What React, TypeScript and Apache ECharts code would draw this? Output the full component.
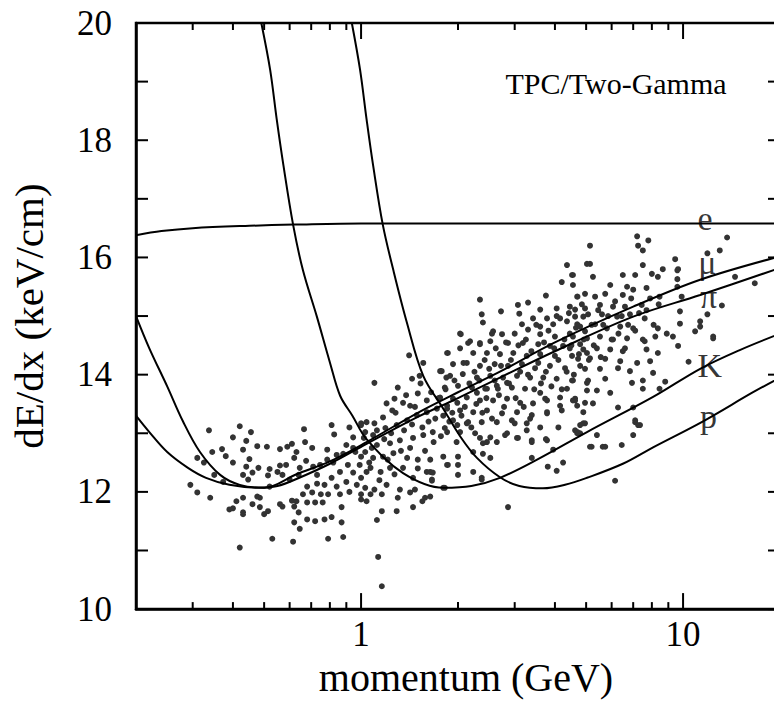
import React, { useEffect, useRef } from "react";
import * as echarts from "echarts";

// ---- axis ranges, ticks ----
const X_MIN = 0.2;
const X_MAX = 20;
const Y_MIN = 10;
const Y_MAX = 20;
const Y_LABEL_STEP = 2;
const xMajorTicks = [1, 10];
const xMinorTicks = [0.3, 0.4, 0.5, 0.6, 0.7, 0.8, 0.9, 2, 3, 4, 5, 6, 7, 8, 9];
const yTickValues = [10, 11, 12, 13, 14, 15, 16, 17, 18, 19, 20];

// ---- curves (momentum GeV, dE/dx keV/cm) ----
const curveE = [[0.2, 16.38], [0.24, 16.45], [0.3, 16.5], [0.45, 16.54], [0.62, 16.56], [1.0, 16.58], [3.0, 16.58], [20, 16.58]];
const curveMu = [[0.2, 15.0], [0.22, 14.45], [0.25, 13.8], [0.28, 13.2], [0.316, 12.68], [0.365, 12.29], [0.42, 12.12], [0.5, 12.07], [0.63, 12.3], [0.8, 12.52], [1.04, 12.85], [1.5, 13.35], [2.0, 13.7], [2.7, 14.05], [4.0, 14.55], [7.0, 15.16], [11.3, 15.62], [20, 16.02]];
const curvePi = [[0.2, 13.3], [0.22, 13.02], [0.25, 12.68], [0.29, 12.41], [0.33, 12.24], [0.39, 12.12], [0.48, 12.07], [0.55, 12.1], [0.63, 12.22], [0.8, 12.48], [1.04, 12.82], [1.5, 13.28], [2.0, 13.6], [2.7, 13.95], [4.0, 14.4], [7.0, 14.99], [11.3, 15.36], [20, 15.82]];
const curveK = [[0.49, 20.0], [0.522, 19.2], [0.547, 18.36], [0.574, 17.57], [0.615, 16.56], [0.66, 15.78], [0.729, 14.99], [0.801, 14.2], [0.861, 13.64], [0.94, 13.3], [1.04, 12.9], [1.35, 12.32], [1.8, 12.07], [2.2, 12.1], [2.7, 12.24], [3.52, 12.55], [5.03, 13.02], [8.07, 13.62], [11.3, 14.1], [15, 14.42], [20, 14.7]];
const curveP = [[0.936, 20.0], [0.993, 19.2], [1.04, 18.36], [1.09, 17.57], [1.168, 16.56], [1.26, 15.78], [1.386, 14.9], [1.56, 13.98], [1.8, 13.42], [2.03, 12.95], [2.29, 12.58], [2.7, 12.25], [3.1, 12.1], [3.67, 12.06], [4.3, 12.12], [5.03, 12.24], [6.5, 12.48], [8.07, 12.76], [11.5, 13.2], [16.5, 13.7], [20, 13.95]];

// ---- measured tracks ----
const ptsLow = [[0.337, 13.05], [0.42, 13.12], [0.455, 13.02], [0.4, 12.93], [0.44, 12.87], [0.345, 12.68], [0.37, 12.73], [0.43, 12.72], [0.476, 12.78], [0.51, 12.77], [0.31, 12.58], [0.325, 12.5], [0.4, 12.5], [0.45, 12.56], [0.44, 12.43], [0.43, 12.29], [0.46, 12.33], [0.446, 12.21], [0.514, 12.28], [0.56, 12.73], [0.59, 12.77], [0.61, 12.82], [0.665, 13.07], [0.67, 12.85], [0.63, 12.68], [0.62, 12.58], [0.675, 12.53], [0.56, 12.45], [0.585, 12.46], [0.55, 12.34], [0.57, 12.29], [0.52, 12.09], [0.6, 12.21], [0.645, 12.41], [0.64, 12.29], [0.68, 12.09], [0.66, 11.96], [0.61, 11.85], [0.63, 11.84], [0.57, 11.75], [0.56, 11.79], [0.62, 11.75], [0.68, 11.82], [0.64, 11.65], [0.68, 11.53], [0.62, 11.48], [0.645, 11.37], [0.41, 11.84], [0.39, 11.7], [0.43, 11.65], [0.46, 11.79], [0.485, 11.9], [0.485, 11.74], [0.514, 11.67], [0.5, 11.62], [0.43, 11.9], [0.476, 11.92], [0.34, 11.9], [0.31, 11.99], [0.295, 12.12], [0.53, 11.2], [0.615, 11.15], [0.42, 11.05], [0.373, 12.17], [0.35, 12.29], [0.52, 12.39], [0.48, 12.41], [0.38, 12.61], [0.4, 11.72], [0.43, 11.62]];
const ptsMidLeft = [[0.705, 12.75], [0.705, 11.99], [0.73, 12.29], [0.785, 12.72], [0.81, 13.14], [0.825, 12.98], [0.84, 12.63], [0.785, 12.55], [0.82, 12.5], [0.92, 13.1], [0.945, 12.93], [0.9, 12.8], [0.88, 12.65], [0.96, 12.68], [0.99, 12.46], [0.91, 12.46], [0.86, 12.34], [0.945, 12.33], [1.0, 12.24], [0.81, 12.24], [0.77, 12.12], [0.73, 12.14], [0.84, 12.09], [0.92, 12.0], [1.0, 11.96], [0.75, 11.96], [0.79, 11.96], [0.86, 11.96], [0.72, 11.82], [0.76, 11.82], [0.87, 11.74], [0.72, 11.5], [0.77, 11.53], [0.81, 11.57], [0.87, 11.48], [0.79, 11.2], [0.88, 11.23], [0.746, 12.46], [0.71, 12.43], [1.0, 13.17], [1.03, 13.02], [0.945, 12.75], [1.0, 12.6], [0.97, 12.12], [0.9, 12.17], [1.04, 12.34], [1.04, 11.84]];
const ptsCoreA = [[2.03, 14.7], [2.18, 14.57], [2.34, 14.52], [2.55, 14.7], [1.86, 14.37], [2.03, 14.45], [1.41, 14.33], [1.56, 14.2], [1.78, 14.06], [1.44, 13.93], [1.52, 13.98], [1.84, 13.95], [1.1, 13.86], [1.3, 13.78], [1.5, 13.68], [1.27, 13.59], [1.2, 13.51], [1.35, 13.52], [1.42, 13.47], [1.6, 13.56], [1.25, 13.39], [1.17, 13.27], [1.1, 13.17], [1.04, 13.19], [1.0, 13.14], [1.02, 12.92], [1.09, 12.97], [1.19, 13.09], [1.29, 13.14], [1.39, 13.22], [1.49, 13.31], [1.6, 13.36], [1.72, 13.42], [1.85, 13.47], [1.99, 13.52], [2.13, 13.61], [2.29, 13.69], [2.46, 13.76], [2.64, 13.81], [2.84, 13.86], [1.12, 12.8], [1.23, 12.83], [1.32, 12.88], [1.45, 12.92], [1.56, 12.97], [1.67, 13.02], [1.82, 13.09], [1.99, 13.14], [2.13, 13.17], [1.03, 12.68], [1.09, 12.58], [1.17, 12.6], [1.26, 12.66], [1.39, 12.58], [1.5, 12.55], [1.64, 12.55], [1.8, 12.6], [1.86, 12.46], [2.0, 12.6], [2.23, 12.68], [2.39, 12.83], [2.64, 12.85], [2.52, 12.58], [2.84, 13.0], [2.0, 12.29], [2.23, 12.34], [2.37, 12.21], [1.07, 12.41], [1.15, 12.34], [1.23, 12.41], [1.35, 12.41], [1.45, 12.24], [1.64, 12.34], [1.66, 12.21], [1.03, 12.07], [1.1, 12.04], [1.2, 12.12], [1.32, 12.04], [1.42, 11.99], [1.47, 12.04], [1.07, 11.96], [1.16, 11.96], [1.3, 11.9], [1.55, 11.84], [1.64, 11.92], [1.0, 11.87], [1.16, 11.67], [1.29, 11.67], [1.45, 11.74], [1.12, 11.52], [1.82, 12.07], [2.86, 11.74], [1.13, 10.89], [1.16, 10.39]];
const ptsCoreB = [[4.36, 15.87], [5.03, 15.89], [4.52, 15.7], [4.2, 15.58], [4.55, 15.53], [3.75, 15.35], [4.7, 15.33], [4.96, 15.38], [3.3, 15.23], [3.07, 15.19], [3.6, 15.11], [4.05, 15.13], [4.62, 15.11], [2.72, 15.08], [2.37, 15.03], [3.1, 15.04], [3.42, 14.96], [3.78, 14.96], [4.15, 14.96], [4.9, 14.99], [2.39, 14.89], [3.16, 14.86], [3.6, 14.82], [3.95, 14.86], [4.36, 14.91], [4.69, 14.86], [2.57, 14.74], [2.74, 14.69], [3.0, 14.7], [3.3, 14.77], [3.6, 14.69], [4.0, 14.65], [4.45, 14.7], [4.96, 14.74], [2.04, 14.69], [2.15, 14.54], [2.34, 14.54], [2.52, 14.57], [2.86, 14.54], [3.18, 14.54], [3.55, 14.52], [3.86, 14.49], [4.24, 14.49], [4.79, 14.52], [1.85, 14.37], [2.03, 14.45], [2.23, 14.37], [2.46, 14.37], [2.7, 14.35], [2.97, 14.37], [3.27, 14.32], [3.6, 14.35], [4.0, 14.32], [4.52, 14.32], [5.03, 14.37], [1.93, 14.18], [2.13, 14.2], [2.34, 14.15], [2.6, 14.18], [2.86, 14.15], [3.16, 14.18], [3.47, 14.11], [3.86, 14.15], [4.3, 14.11], [4.79, 14.15], [1.76, 14.06], [1.89, 13.98], [2.07, 14.01], [2.29, 13.95], [2.52, 13.98], [2.76, 13.95], [3.05, 13.98], [3.35, 13.95], [3.68, 13.95], [4.05, 13.93], [4.55, 13.9], [5.03, 13.86], [1.82, 13.78], [2.0, 13.81], [2.21, 13.78], [2.43, 13.76], [2.66, 13.76], [2.94, 13.78], [3.23, 13.76], [3.6, 13.69], [4.36, 13.76], [4.62, 13.56], [4.96, 13.52], [1.76, 13.61], [1.93, 13.59], [2.13, 13.61], [2.34, 13.56], [2.57, 13.56], [2.84, 13.59], [3.12, 13.52], [3.42, 13.51], [3.78, 13.56], [4.15, 13.61], [1.85, 13.42], [2.03, 13.39], [2.23, 13.36], [2.46, 13.39], [2.74, 13.34], [3.05, 13.36], [3.39, 13.31], [3.78, 13.34], [4.2, 13.39], [4.69, 13.47], [1.93, 13.22], [2.15, 13.19], [2.37, 13.19], [2.64, 13.19], [2.94, 13.22], [3.27, 13.17], [3.6, 13.1], [4.1, 13.1], [1.85, 13.02], [2.03, 13.02], [2.26, 13.0], [2.52, 12.93], [2.8, 12.97], [3.07, 12.92], [3.39, 12.88], [3.78, 12.88], [4.7, 13.02], [2.34, 15.28]];
const ptsCoreFill = [[1.06, 12.5], [1.08, 12.75], [1.12, 13.05], [1.14, 12.2], [1.18, 12.9], [1.21, 12.55], [1.24, 13.0], [1.27, 12.3], [1.28, 13.35], [1.33, 12.7], [1.36, 13.05], [1.38, 13.65], [1.42, 12.75], [1.44, 13.15], [1.47, 13.45], [1.5, 12.4], [1.53, 13.85], [1.55, 13.1], [1.58, 12.7], [1.62, 13.2], [1.65, 13.7], [1.68, 12.85], [1.7, 13.25], [1.74, 13.6], [1.77, 12.95], [1.8, 13.3], [1.83, 13.75], [1.88, 13.2], [1.92, 13.35], [1.95, 13.9], [1.98, 12.85], [2.05, 13.3], [2.08, 14.2], [2.1, 13.45], [2.17, 13.85], [2.2, 13.1], [2.25, 14.05], [2.28, 13.5], [2.33, 13.9], [2.38, 13.35], [2.42, 14.25], [2.45, 13.6], [2.5, 14.1], [2.55, 13.25], [2.6, 13.9], [2.62, 14.45], [2.68, 13.65], [2.72, 14.15], [2.78, 13.45], [2.82, 14.55], [2.88, 13.85], [2.92, 14.25], [3.02, 13.6], [3.08, 14.5], [3.12, 14.05], [3.2, 13.45], [3.25, 14.6], [3.3, 14.0], [3.38, 14.4], [3.45, 13.75], [3.5, 14.85], [3.55, 14.2], [3.62, 13.85], [3.7, 14.55], [3.75, 14.05], [3.82, 14.75], [3.9, 13.8], [3.98, 14.45], [4.05, 15.0], [4.1, 14.25], [4.2, 13.75], [4.28, 14.6], [4.35, 14.05], [4.42, 15.05], [4.5, 14.5], [4.58, 14.0], [4.65, 14.8], [4.75, 14.35], [4.85, 15.2], [4.92, 14.6], [5.1, 14.25], [5.2, 14.85], [5.28, 14.5], [5.45, 15.1], [5.55, 14.3], [5.65, 14.85], [5.85, 15.0], [6.0, 14.6], [6.15, 15.25], [6.3, 14.7], [6.45, 15.0], [6.6, 14.45], [6.75, 14.85], [6.9, 15.3], [7.1, 14.75], [7.3, 15.05], [7.5, 14.6], [7.7, 15.1], [8.1, 14.85], [8.4, 15.2]];
const ptsRight = [[7.2, 16.36], [7.8, 16.29], [5.14, 16.2], [7.25, 16.2], [7.5, 16.12], [11.9, 16.07], [9.45, 15.97], [5.14, 15.89], [7.5, 15.87], [9.6, 15.78], [8.65, 15.8], [4.55, 15.7], [5.25, 15.67], [6.5, 15.7], [7.1, 15.7], [8.0, 15.72], [8.35, 15.67], [9.6, 15.63], [5.94, 15.53], [6.7, 15.5], [7.7, 15.48], [9.6, 15.5], [4.69, 15.33], [5.33, 15.33], [5.73, 15.38], [6.5, 15.36], [7.0, 15.45], [7.9, 15.3], [8.45, 15.33], [9.9, 15.33], [4.45, 15.16], [4.96, 15.13], [5.52, 15.19], [6.06, 15.16], [6.6, 15.16], [7.44, 15.19], [4.62, 14.99], [5.07, 15.03], [5.6, 15.03], [6.24, 14.99], [6.84, 15.03], [7.6, 14.96], [9.78, 15.08], [11.9, 15.03], [4.79, 14.82], [5.33, 14.86], [5.8, 14.79], [6.38, 14.82], [7.0, 14.79], [8.35, 14.79], [9.78, 14.87], [11.3, 14.82], [10.9, 14.74], [8.9, 14.7], [9.3, 14.65], [4.55, 14.65], [5.03, 14.62], [5.52, 14.65], [6.06, 14.6], [6.7, 14.62], [7.6, 14.57], [8.2, 14.65], [12.4, 14.65], [9.65, 14.49], [4.45, 14.45], [4.9, 14.43], [5.4, 14.45], [5.94, 14.43], [6.5, 14.4], [7.7, 14.43], [8.35, 14.37], [4.72, 14.27], [5.14, 14.28], [5.73, 14.27], [6.38, 14.23], [7.2, 14.2], [7.9, 14.23], [10.4, 14.22], [4.96, 14.1], [5.52, 14.1], [6.28, 14.11], [6.84, 14.06], [8.07, 14.03], [4.52, 13.9], [5.07, 13.9], [5.73, 13.93], [6.94, 13.86], [7.5, 13.9], [8.8, 13.88], [5.03, 13.73], [5.4, 13.73], [5.94, 13.69], [7.5, 13.76], [8.45, 13.76], [4.62, 13.59], [4.96, 13.52], [6.28, 13.44], [7.0, 13.44], [4.9, 13.36], [7.1, 13.19], [7.25, 13.14], [4.79, 13.14], [4.96, 13.17], [4.69, 13.0], [7.0, 12.97], [5.14, 12.77], [5.63, 12.77], [6.45, 12.8], [13.7, 16.34], [13.0, 16.12], [9.65, 15.8], [14.5, 15.67], [16.7, 15.56], [13.2, 15.18], [11.3, 14.91], [12.4, 14.62]];
const ptsLowerRight = [[3.73, 13.59], [4.15, 13.47], [4.55, 13.56], [5.25, 13.51], [6.28, 13.44], [3.78, 13.36], [4.2, 13.39], [3.35, 13.25], [3.0, 13.17], [4.9, 13.17], [7.1, 13.22], [7.35, 13.14], [4.62, 13.05], [3.27, 13.05], [2.84, 13.0], [4.79, 13.0], [3.05, 12.92], [3.39, 12.85], [3.75, 12.9], [5.2, 12.77], [5.73, 12.77], [5.4, 12.97], [2.34, 12.92], [2.64, 12.85], [2.46, 12.85], [3.95, 12.72], [2.23, 12.68], [2.39, 12.65], [2.52, 12.58], [3.39, 12.58], [4.24, 12.5], [3.8, 12.43], [4.05, 12.36], [2.23, 12.34], [2.0, 12.29], [1.85, 12.46], [2.0, 12.46], [2.37, 12.24], [1.6, 12.34], [1.67, 12.33], [1.66, 12.19], [1.8, 12.07], [6.15, 12.19], [2.86, 11.74], [1.58, 11.9], [1.55, 11.84]];

// ---- curve labels ----
const curveLabels = [
  { name: "e", value: [11.7, 16.66] },
  { name: "\u03bc", value: [11.9, 15.92] },
  { name: "\u03c0", value: [12.0, 15.33] },
  { name: "K", value: [12.1, 14.15] },
  { name: "p", value: [12.0, 13.29] },
];
const panelTitle = "TPC/Two-Gamma";

const SERIF = "Liberation Serif";

export default function App() {
  const ref = useRef<HTMLDivElement>(null);
  useEffect(() => {
    document.body.style.margin = "0";
  }, []);
  useEffect(() => {
    const chart = echarts.init(ref.current!, undefined, { renderer: "svg" });
    const allPts = [...ptsLow, ...ptsMidLeft, ...ptsCoreA, ...ptsCoreB, ...ptsCoreFill, ...ptsRight, ...ptsLowerRight];
    const lineBase = {
      type: "line",
      showSymbol: false,
      symbol: "none",
      smooth: 0.35,
      clip: true,
      silent: true,
      lineStyle: { color: "#000", width: 2 },
    };
    const option: any = {
      animation: false,
      backgroundColor: "#fff",
      grid: { left: 135, top: 23, right: 0, bottom: 86, show: true, borderColor: "#000", borderWidth: 2.5, backgroundColor: "transparent" },
      xAxis: {
        type: "log",
        logBase: 10,
        min: X_MIN,
        max: X_MAX,
        name: "momentum (GeV)",
        nameLocation: "middle",
        nameGap: 42,
        nameTextStyle: { fontFamily: SERIF, fontSize: 40, color: "#000", padding: [0, 0, 0, 16] },
        axisLine: { show: true, onZero: false, lineStyle: { color: "#000", width: 2.5 } },
        axisTick: { show: false },
        axisLabel: {
          show: true,
          showMinLabel: false,
          showMaxLabel: false,
          formatter: (v: number) => String(v),
          fontFamily: SERIF,
          fontSize: 35,
          color: "#000",
          margin: 8,
        },
        splitLine: { show: false },
      },
      yAxis: {
        type: "value",
        min: Y_MIN,
        max: Y_MAX,
        interval: Y_LABEL_STEP,
        name: "dE/dx (keV/cm)",
        nameLocation: "middle",
        nameGap: 87,
        nameRotate: 90,
        nameTextStyle: { fontFamily: SERIF, fontSize: 41, color: "#000" },
        axisLine: { show: true, onZero: false, lineStyle: { color: "#000", width: 2.5 } },
        axisTick: { show: false },
        axisLabel: {
          show: true,
          formatter: (v: number) => String(v),
          fontFamily: SERIF,
          fontSize: 35,
          color: "#000",
          margin: 24,
        },
        splitLine: { show: false },
      },
      series: [
        {
          type: "scatter",
          name: "tracks",
          symbol: "circle",
          symbolSize: 6,
          large: true,
          largeThreshold: 100,
          silent: true,
          itemStyle: { color: "#000" },
          data: allPts,
        },
        { ...lineBase, name: "e", data: curveE },
        { ...lineBase, name: "mu", data: curveMu },
        { ...lineBase, name: "pi", data: curvePi },
        { ...lineBase, name: "K", data: curveK },
        { ...lineBase, name: "p", data: curveP },
        {
          type: "scatter",
          name: "labels",
          symbolSize: 0,
          silent: true,
          itemStyle: { color: "transparent" },
          label: {
            show: true,
            position: "inside",
            formatter: (p: any) => p.name,
            fontFamily: SERIF,
            fontSize: 34,
            color: "#000",
          },
          data: curveLabels,
        },
      ],
    };
    chart.setOption(option);

    // tick marks, positioned through the chart's own axis scales
    const toPx = (x: number, y: number) => chart.convertToPixel({ xAxisIndex: 0, yAxisIndex: 0 }, [x, y]) as number[];
    const tickEls: any[] = [];
    const addXTick = (v: number, len: number) => {
      const b = toPx(v, Y_MIN);
      const t = toPx(v, Y_MAX);
      tickEls.push({ type: "rect", silent: true, shape: { x: b[0] - 1, y: b[1] - len, width: 2, height: len }, style: { fill: "#000" } });
      tickEls.push({ type: "rect", silent: true, shape: { x: t[0] - 1, y: t[1], width: 2, height: len }, style: { fill: "#000" } });
    };
    xMinorTicks.forEach((v) => addXTick(v, 7));
    xMajorTicks.forEach((v) => addXTick(v, 16));
    yTickValues.forEach((v) => {
      const l = toPx(X_MIN, v);
      const r = toPx(X_MAX, v);
      tickEls.push({ type: "rect", silent: true, shape: { x: l[0], y: l[1] - 1, width: 12, height: 2 }, style: { fill: "#000" } });
      tickEls.push({ type: "rect", silent: true, shape: { x: r[0] - 12, y: r[1] - 1, width: 12, height: 2 }, style: { fill: "#000" } });
    });

    chart.setOption({
      graphic: [
        {
          type: "text",
          x: 616,
          y: 83,
          silent: true,
          style: {
            text: panelTitle,
            fontFamily: SERIF,
            fontSize: 30,
            fill: "#000",
            align: "center",
            verticalAlign: "middle",
          },
        },
        ...tickEls,
      ],
    });
    return () => chart.dispose();
  }, []);
  return (
    <div style={{ width: 774, height: 702, overflow: "hidden" }}>
      <div ref={ref} style={{ width: 780, height: 702 }} />
    </div>
  );
}
